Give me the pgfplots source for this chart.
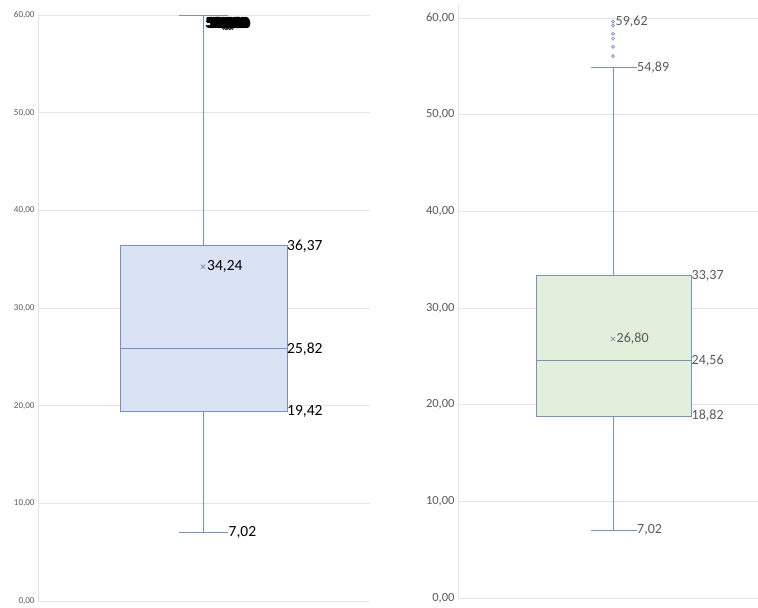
\documentclass[border=0pt]{standalone}
\usepackage{pgfplots}
\pgfplotsset{compat=1.18}
\usepackage{fontspec}
\setmainfont{Carlito}
\definecolor{boxc}{HTML}{7890CA}
\definecolor{fillA}{HTML}{DAE3F3}
\definecolor{fillB}{HTML}{E2EFDA}
\definecolor{gridc}{HTML}{E4E4E4}
\definecolor{tickc}{HTML}{595959}
\begin{document}
\begin{tikzpicture}[x=1pt,y=1pt]
\useasboundingbox (0,0) rectangle (758,608);
\pgfplotsset{
 base/.style={
   scale only axis, anchor=south west,
   xmin=0, ymin=0, ymax=60,
   axis lines=left, axis line style={draw=gridc,-, line width=0.8pt},
   ymajorgrids, grid style={draw=gridc, line width=0.8pt},
   xtick=\empty, ytick={0,10,...,60}, major tick length=0,
   clip=false,
   /pgf/number format/fixed, /pgf/number format/fixed zerofill,
   /pgf/number format/precision=2, /pgf/number format/use comma,
   /pgf/number format/assume math mode=true,
 },
 ln/.style={draw=boxc, line width=1pt, mark=none},
}
% ---------------- left chart ----------------
\begin{axis}[base, at={(38pt,7pt)}, width=332pt, height=586pt, xmax=332,
  yticklabel style={font=\fontsize{9}{10}\selectfont, text=tickc}]
% whiskers and caps
\addplot[ln] coordinates {(165,36.37)(165,60)};
\addplot[ln] coordinates {(165,19.42)(165,7.02)};
\addplot[ln] coordinates {(141,60)(190,60)};
\addplot[ln] coordinates {(141,7.02)(190,7.02)};
% box
\addplot[ln, fill=fillA] coordinates {(82,19.42)(249,19.42)(249,36.37)(82,36.37)} -- cycle;
\addplot[ln] coordinates {(82,25.82)(249,25.82)};
\addplot[only marks, mark=x, mark size=3pt, draw=boxc, line width=0.7pt] coordinates {(165,34.24)};
\begin{scope}[every node/.style={anchor=west, inner sep=0pt, font=\fontsize{15.5}{16}\selectfont, text=black}]
\node at (axis cs:249,36.37) {36,37};
\node at (axis cs:249,25.82) {25,82};
\node at (axis cs:249,19.42) {19,42};
\node at (axis cs:190.5,7.02) {7,02};
\node at (axis cs:169,34.24) {34,24};
\end{scope}
% overlapping outlier labels (smeared in the original)
\begin{scope}[every node/.style={anchor=west, inner sep=0pt, font=\bfseries\fontsize{15.5}{16}\selectfont, text=black}]
\node at (axis cs:167,59.12) {59,00};
\node at (axis cs:168,59.02) {59,00};
\node at (axis cs:169,59.10) {59,00};
\node at (axis cs:170,59.00) {59,00};
\node at (axis cs:171,59.08) {59,00};
\node at (axis cs:172,59.04) {59,00};
\node at (axis cs:173,59.12) {59,00};
\node at (axis cs:174,59.02) {59,00};
\node at (axis cs:175,59.06) {59,00};
\node at (axis cs:176,59.10) {59,00};
\node at (axis cs:177,59.04) {59,00};
\end{scope}
\end{axis}
% ---------------- right chart ----------------
\begin{axis}[base, at={(458pt,10pt)}, width=300pt, height=592.6pt, xmax=300, ymax=61.3,
  yticklabel style={font=\fontsize{12.5}{14}\selectfont, text=tickc}]
\addplot[ln] coordinates {(155,33.37)(155,54.89)};
\addplot[ln] coordinates {(155,18.82)(155,7.02)};
\addplot[ln] coordinates {(133,54.89)(179,54.89)};
\addplot[ln] coordinates {(133,7.02)(179,7.02)};
\addplot[ln, fill=fillB] coordinates {(78,18.82)(233,18.82)(233,33.37)(78,33.37)} -- cycle;
\addplot[ln] coordinates {(78,24.56)(233,24.56)};
\addplot[only marks, mark=x, mark size=3pt, draw=boxc, line width=0.7pt] coordinates {(155,26.80)};
\addplot[only marks, mark=o, mark size=1.5pt, draw=boxc, fill=white, line width=0.7pt]
  coordinates {(155,59.62)(155,59.2)(155,58.35)(155,57.85)(155,57.0)(155,56.05)};
\begin{scope}[every node/.style={anchor=west, inner sep=0pt, font=\fontsize{14}{15}\selectfont, text=tickc}]
\node at (axis cs:233.5,33.37) {33,37};
\node at (axis cs:233.5,24.56) {24,56};
\node at (axis cs:233.5,18.82) {18,82};
\node at (axis cs:179,54.89) {54,89};
\node at (axis cs:179,7.02) {7,02};
\node at (axis cs:158.5,26.80) {26,80};
\node at (axis cs:157.5,59.62) {59,62};
\end{scope}
\end{axis}
\end{tikzpicture}
\end{document}
